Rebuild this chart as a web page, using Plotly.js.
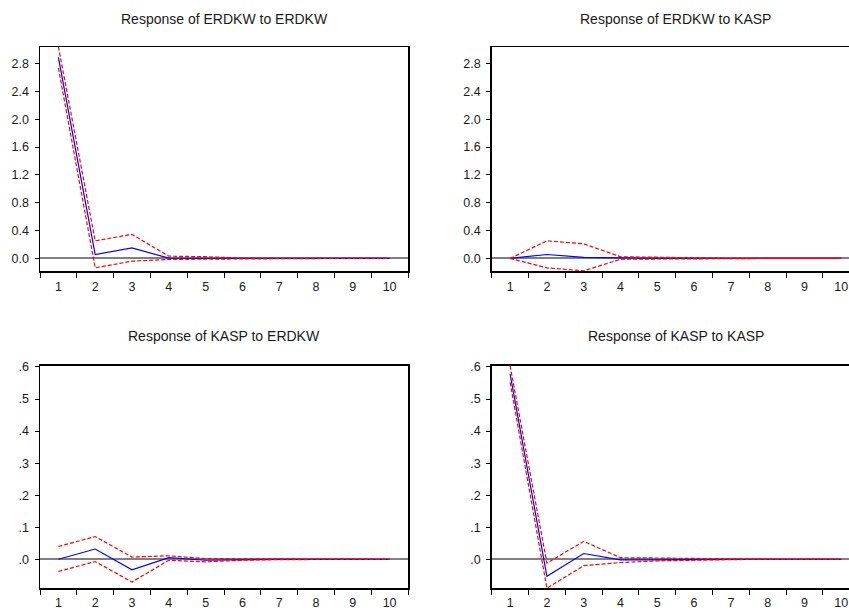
<!DOCTYPE html>
<html>
<head>
<meta charset="utf-8">
<script src="https://cdn.plot.ly/plotly-3.0.1.min.js"></script>
<style>html,body{margin:0;padding:0;background:#fff;}#chart{width:849px;height:611px;}</style>
</head>
<body>
<div id="chart"></div>
<script>
// ---- data ----
const periods = ['1','2','3','4','5','6','7','8','9','10'];

const titles = [
  'Response of ERDKW to ERDKW',
  'Response of ERDKW to KASP',
  'Response of KASP to ERDKW',
  'Response of KASP to KASP'
];

const respErdkwErdkw  = [2.888, 0.057, 0.152, 0.004, 0.001, 0.000, 0.000, 0.000, 0.000, 0.000];
const upperErdkwErdkw = [3.040, 0.253, 0.345, 0.033, 0.025, 0.006, 0.002, 0.001, 0.000, 0.000];
const lowerErdkwErdkw = [2.736, -0.135, -0.039, -0.015, -0.010, -0.004, -0.002, -0.001, 0.000, 0.000];

const respErdkwKasp  = [0.000, 0.057, 0.015, 0.004, 0.001, 0.000, 0.000, 0.000, 0.000, 0.000];
const upperErdkwKasp = [0.000, 0.253, 0.210, 0.025, 0.018, 0.005, 0.002, 0.001, 0.000, 0.000];
const lowerErdkwKasp = [0.000, -0.135, -0.178, -0.012, -0.008, -0.003, -0.001, 0.000, 0.000, 0.000];

const respKaspErdkw  = [0.000, 0.032, -0.033, 0.005, -0.003, -0.001, 0.000, 0.000, 0.000, 0.000];
const upperKaspErdkw = [0.040, 0.071, 0.007, 0.011, 0.002, 0.002, 0.001, 0.000, 0.000, 0.000];
const lowerKaspErdkw = [-0.038, -0.007, -0.071, -0.003, -0.008, -0.003, -0.001, 0.000, 0.000, 0.000];

const respKaspKasp  = [0.578, -0.053, 0.018, -0.002, -0.002, 0.000, 0.000, 0.000, 0.000, 0.000];
const upperKaspKasp = [0.604, -0.012, 0.056, 0.005, 0.004, 0.002, 0.001, 0.000, 0.000, 0.000];
const lowerKaspKasp = [0.552, -0.090, -0.020, -0.010, -0.005, -0.002, -0.001, 0.000, 0.000, 0.000];

const topTickVals = [0.0, 0.4, 0.8, 1.2, 1.6, 2.0, 2.4, 2.8];
const topTickText = ['0.0', '0.4', '0.8', '1.2', '1.6', '2.0', '2.4', '2.8'];
const botTickVals = [0.0, 0.1, 0.2, 0.3, 0.4, 0.5, 0.6];
const botTickText = ['.0', '.1', '.2', '.3', '.4', '.5', '.6'];

// ---- figure ----
const W = 849, H = 611;
const panels = [
  {resp: respErdkwErdkw, up: upperErdkwErdkw, lo: lowerErdkwErdkw},
  {resp: respErdkwKasp,  up: upperErdkwKasp,  lo: lowerErdkwKasp},
  {resp: respKaspErdkw,  up: upperKaspErdkw,  lo: lowerKaspErdkw},
  {resp: respKaspKasp,   up: upperKaspKasp,   lo: lowerKaspKasp}
];

const colL = [40 / W, 408 / W];
const colR = [491.7 / W, 1.0];
const rowT = [1 - 271 / H, 1 - 47 / H];
const rowB = [1 - 588.3 / H, 1 - 365.7 / H];
const xRangeL = [-0.5, 9.5];
const xRangeR = [-0.5, 9.21];
const yRangeT = [-0.18, 3.036];
const yRangeB = [-0.0905, 0.604];

const traces = [];
panels.forEach((p, i) => {
  const xa = 'x' + (i === 0 ? '' : i + 1);
  const ya = 'y' + (i === 0 ? '' : i + 1);
  traces.push({x: periods, y: p.resp, xaxis: xa, yaxis: ya, type: 'scatter', mode: 'lines',
    line: {color: '#0000FF', width: 1.2}, hoverinfo: 'skip'});
  traces.push({x: periods, y: p.up, xaxis: xa, yaxis: ya, type: 'scatter', mode: 'lines',
    line: {color: '#FF0000', width: 1.2, dash: '4px,2px'}, hoverinfo: 'skip'});
  traces.push({x: periods, y: p.lo, xaxis: xa, yaxis: ya, type: 'scatter', mode: 'lines',
    line: {color: '#FF0000', width: 1.2, dash: '4px,2px'}, hoverinfo: 'skip'});
});

function xAx(domain, range, anchor, standoff) {
  return {domain, range, anchor, type: 'category', tickson: 'boundaries',
    ticks: 'outside', ticklen: 5, tickwidth: 1, tickcolor: '#000',
    showline: true, linecolor: '#000', linewidth: 1.5, mirror: true,
    showgrid: false, zeroline: false, fixedrange: true, ticklabelstandoff: standoff,
    tickfont: {size: 12.5, color: '#1a1a1a'}};
}
function yAx(domain, range, anchor, vals, text, mirror) {
  return {domain, range, anchor, tickvals: vals, ticktext: text,
    ticks: 'outside', ticklen: 4, tickwidth: 1, tickcolor: '#000',
    showline: true, linecolor: '#000', linewidth: 1.5, mirror: mirror,
    showgrid: false, zeroline: true, zerolinecolor: '#808080', zerolinewidth: 2,
    fixedrange: true, ticklabelstandoff: 3, tickfont: {size: 12.5, color: '#1a1a1a'}};
}

const layout = {
  width: W, height: H,
  margin: {l: 0, r: 0, t: 0, b: 0},
  paper_bgcolor: '#fff', plot_bgcolor: '#fff',
  showlegend: false,
  font: {family: 'Arial, "Liberation Sans", sans-serif', size: 12, color: '#1a1a1a'},
  xaxis:  xAx(colL, xRangeL, 'y', 3),
  yaxis:  yAx(rowT, yRangeT, 'x', topTickVals, topTickText, true),
  xaxis2: xAx(colR, xRangeR, 'y2', 3),
  yaxis2: yAx(rowT, yRangeT, 'x2', topTickVals, topTickText, false),
  xaxis3: xAx(colL, xRangeL, 'y3', 2),
  yaxis3: yAx(rowB, yRangeB, 'x3', botTickVals, botTickText, true),
  xaxis4: xAx(colR, xRangeR, 'y4', 2),
  yaxis4: yAx(rowB, yRangeB, 'x4', botTickVals, botTickText, false),
  annotations: [
    {text: titles[0], x: 224 / W, y: 1 - 19 / H},
    {text: titles[1], x: 675.8 / W, y: 1 - 19 / H},
    {text: titles[2], x: 224 / W, y: 1 - 336 / H},
    {text: titles[3], x: 675.8 / W, y: 1 - 336 / H}
  ].map(a => Object.assign(a, {xref: 'paper', yref: 'paper', xanchor: 'center', yanchor: 'middle',
    showarrow: false, font: {size: 14, color: '#1a1a1a'}}))
};

Plotly.newPlot('chart', traces, layout, {displayModeBar: false, staticPlot: true});
</script>
</body>
</html>
